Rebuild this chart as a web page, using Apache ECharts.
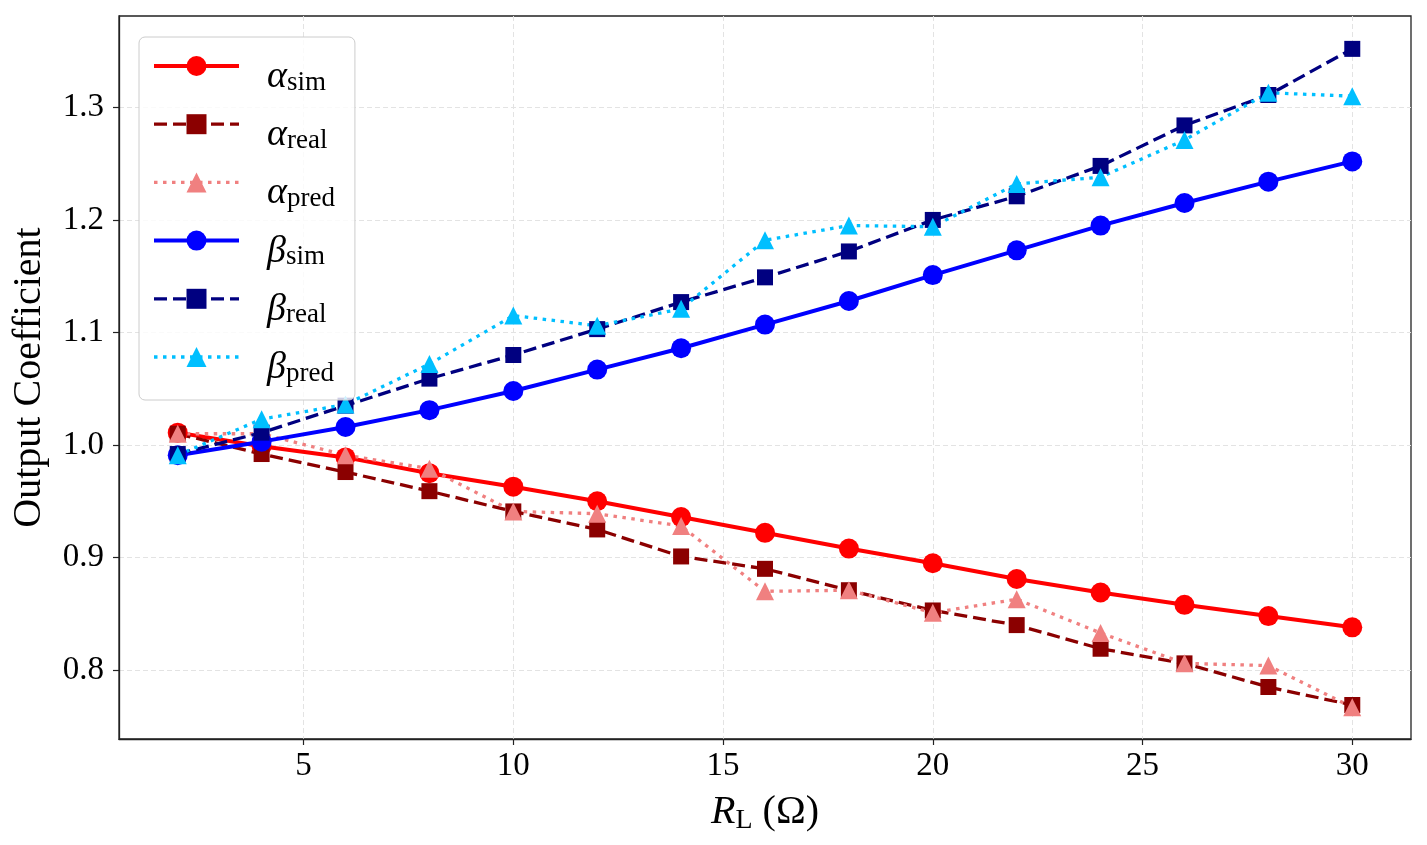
<!DOCTYPE html>
<html>
<head>
<meta charset="utf-8">
<script src="https://cdn.jsdelivr.net/npm/echarts@6/dist/echarts.min.js"></script>
<style>
html,body{margin:0;padding:0;background:#fff;}
#chart{width:1427px;height:845px;}
</style>
</head>
<body>
<div id="chart"></div>
<script>
// ---- data ----
const xVals = [2, 4, 6, 8, 10, 12, 14, 16, 18, 20, 22, 24, 26, 28, 30];
const alphaSim  = [1.011, 0.999, 0.989, 0.975, 0.963, 0.950, 0.936, 0.922, 0.908, 0.895, 0.881, 0.869, 0.858, 0.848, 0.838];
const alphaReal = [1.010, 0.992, 0.976, 0.959, 0.941, 0.925, 0.901, 0.890, 0.871, 0.853, 0.840, 0.819, 0.806, 0.785, 0.769];
const alphaPred = [1.010, 1.010, 0.991, 0.979, 0.941, 0.939, 0.928, 0.870, 0.871, 0.851, 0.863, 0.833, 0.806, 0.804, 0.767];
const betaSim   = [0.991, 1.003, 1.016, 1.031, 1.048, 1.067, 1.086, 1.107, 1.128, 1.151, 1.173, 1.195, 1.215, 1.234, 1.252];
const betaReal  = [0.992, 1.011, 1.035, 1.059, 1.080, 1.103, 1.127, 1.149, 1.172, 1.200, 1.221, 1.248, 1.284, 1.311, 1.352];
const betaPred  = [0.991, 1.023, 1.036, 1.072, 1.115, 1.106, 1.121, 1.182, 1.195, 1.194, 1.232, 1.238, 1.271, 1.313, 1.310];
const xTicks = [5, 10, 15, 20, 25, 30];
const yTicks = [0.8, 0.9, 1.0, 1.1, 1.2, 1.3];
const seriesNames = ['α_sim', 'α_real', 'α_pred', 'β_sim', 'β_real', 'β_pred'];

const FONT = '"Liberation Serif", "Times New Roman", "DejaVu Serif", serif';

const styles = {
  'α_sim':  { color: '#ff0000', type: 'solid',  width: 4,   symbol: 'circle',   size: 20 },
  'α_real': { color: '#8b0000', type: [13, 6],  width: 3.3, symbol: 'rect',     size: 16 },
  'α_pred': { color: '#f08080', type: [3.5, 5.5], width: 3.3, symbol: 'triangle', size: 18 },
  'β_sim':  { color: '#0000ff', type: 'solid',  width: 4,   symbol: 'circle',   size: 20 },
  'β_real': { color: '#000080', type: [13, 6],  width: 3.3, symbol: 'rect',     size: 16 },
  'β_pred': { color: '#00bfff', type: [3.5, 5.5], width: 3.3, symbol: 'triangle', size: 18 }
};
const seriesData = {
  'α_sim': alphaSim, 'α_real': alphaReal, 'α_pred': alphaPred,
  'β_sim': betaSim, 'β_real': betaReal, 'β_pred': betaPred
};

function pairs(ys) { return xVals.map((x, i) => [x, ys[i]]); }

function makeSeries(name) {
  const s = styles[name];
  return {
    name: name,
    type: 'line',
    data: pairs(seriesData[name]),
    symbol: s.symbol,
    symbolSize: s.size,
    showAllSymbol: true,
    animation: false,
    lineStyle: { color: s.color, width: s.width, type: s.type },
    itemStyle: { color: s.color, borderWidth: 0 },
    emphasis: { disabled: true }
  };
}

const chart = echarts.init(document.getElementById('chart'), null, { renderer: 'canvas' });

const option = {
  backgroundColor: '#ffffff',
  animation: false,
  grid: {
    left: 119, right: 16, top: 16, bottom: 106,
    show: true, borderColor: '#222', borderWidth: 1.3, backgroundColor: 'transparent'
  },
  legend: {
    left: 139, top: 37,
    orient: 'vertical',
    itemWidth: 85, itemHeight: 25, itemGap: 18.2,
    padding: [19, 20, 13, 13],
    backgroundColor: 'rgba(255,255,255,0.8)',
    borderColor: '#cccccc', borderWidth: 1, borderRadius: 6,
    data: seriesNames.map(n => ({
      name: n,
      lineStyle: { width: styles[n].width, type: styles[n].type, color: styles[n].color }
    })),
    formatter: function (name) {
      const parts = name.split('_');
      return '{h| }{g|' + parts[0] + '}{s|' + parts[1] + '}';
    },
    textStyle: {
      padding: [0, 0, 0, 23],
      rich: {
        h: { fontFamily: FONT, fontSize: 10, lineHeight: 60, width: 0 },
        g: { fontFamily: FONT, fontStyle: 'italic', fontSize: 38, lineHeight: 44, verticalAlign: 'bottom', color: '#000' },
        s: { fontFamily: FONT, fontSize: 27, lineHeight: 28, verticalAlign: 'bottom', color: '#000' }
      }
    }
  },
  xAxis: {
    type: 'value',
    min: 0.6, max: 31.4,
    minInterval: 5, maxInterval: 5,
    name: '{r|R}{l|L}{p| (Ω)}',
    nameLocation: 'middle',
    nameGap: 50,
    nameTextStyle: {
      rich: {
        r: { fontFamily: FONT, fontStyle: 'italic', fontSize: 40, lineHeight: 46, color: '#000' },
        l: { fontFamily: FONT, fontSize: 28, lineHeight: 36, verticalAlign: 'bottom', color: '#000' },
        p: { fontFamily: FONT, fontSize: 40, lineHeight: 46, color: '#000' }
      }
    },
    axisLine: { show: true, onZero: false, lineStyle: { color: '#222', width: 1.3 } },
    axisTick: { show: true, inside: false, length: 6, customValues: xTicks, lineStyle: { color: '#222', width: 1.2 } },
    axisLabel: { show: true, customValues: xTicks, margin: 11, fontFamily: FONT, fontSize: 33, color: '#000' },
    splitLine: { show: true, lineStyle: { color: '#e3e3e3', width: 1, type: [5, 3] } }
  },
  yAxis: {
    type: 'value',
    min: 0.7388, max: 1.3812,
    minInterval: 0.1, maxInterval: 0.1,
    name: 'Output Coefficient',
    nameLocation: 'middle',
    nameGap: 70,
    nameTextStyle: { fontFamily: FONT, fontSize: 40, color: '#000' },
    axisLine: { show: true, onZero: false, lineStyle: { color: '#222', width: 1.3 } },
    axisTick: { show: true, inside: false, length: 6, customValues: yTicks, lineStyle: { color: '#222', width: 1.2 } },
    axisLabel: {
      show: true, customValues: yTicks, margin: 15, fontFamily: FONT, fontSize: 33, color: '#000',
      formatter: function (v) { return Number(v).toFixed(1); }
    },
    splitLine: { show: true, lineStyle: { color: '#e3e3e3', width: 1, type: [5, 3] } }
  },
  series: seriesNames.map(makeSeries)
};

chart.setOption(option);
</script>
</body>
</html>
